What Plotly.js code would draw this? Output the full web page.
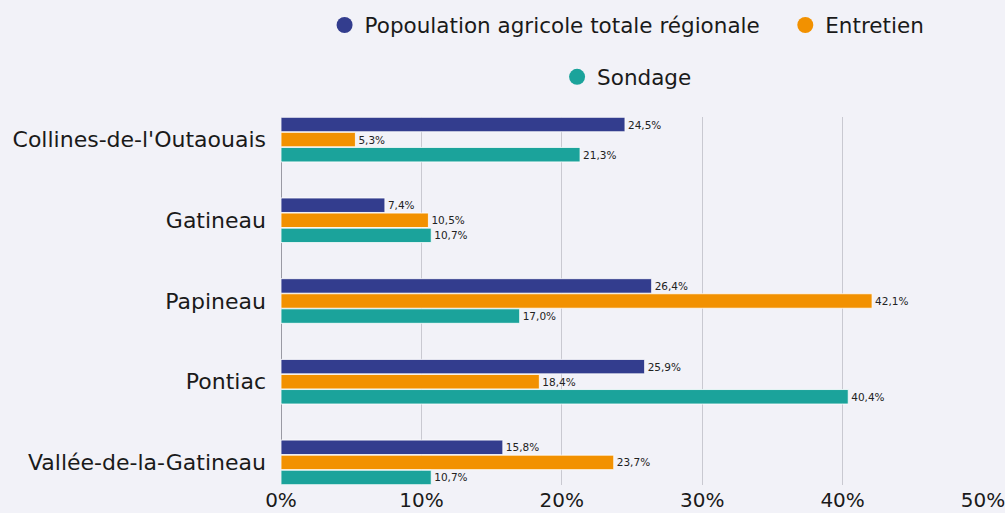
<!DOCTYPE html>
<html>
<head>
<meta charset="utf-8">
<script src="https://cdn.plot.ly/plotly-3.0.1.min.js"></script>
<style>html,body{margin:0;padding:0;background:#f2f2f8;}</style>
</head>
<body>
<div id="chart" style="width:1005px;height:513px;"></div>
<script>
const categories = ["Collines-de-l'Outaouais", "Gatineau", "Papineau", "Pontiac", "Vallée-de-la-Gatineau"];
const seriesNames = ["Popoulation agricole totale régionale", "Entretien", "Sondage"];
const population = [24.5, 7.4, 26.4, 25.9, 15.8];
const entretien = [5.3, 10.5, 42.1, 18.4, 23.7];
const sondage = [21.3, 10.7, 17.0, 40.4, 10.7];
const colors = ["#333d8e", "#f29100", "#1ba39b"];
const xTicks = [0, 10, 20, 30, 40, 50];

const seriesValues = [population, entretien, sondage];
const fontFam = "'DejaVu Sans', 'Open Sans', sans-serif";

const traces = seriesValues.map((vals, i) => ({
  type: 'bar',
  orientation: 'h',
  name: seriesNames[i],
  x: vals,
  y: categories,
  marker: {color: colors[i], line: {color: '#ffffff', width: 0.8}},
  texttemplate: '%{x:.1f}%',
  textposition: 'outside',
  cliponaxis: false,
  textfont: {size: 10.5, color: '#222222', family: fontFam},
  showlegend: false,
  hoverinfo: 'x+y'
}));

const legendTraces = seriesNames.map((n, i) => ({
  type: 'scatter',
  mode: 'markers',
  name: i === 0 ? n + '\u00a0\u00a0\u00a0' : n,
  x: [null],
  y: [null],
  marker: {color: colors[i], size: 16, symbol: 'circle'},
  legend: i < 2 ? 'legend' : 'legend2',
  showlegend: true
}));

const layout = {
  width: 1005,
  height: 513,
  paper_bgcolor: '#f2f2f8',
  plot_bgcolor: '#f2f2f8',
  separators: ', ',
  font: {family: fontFam, color: '#1a1a1a', size: 21},
  margin: {l: 281, r: 22, t: 117, b: 28, autoexpand: false},
  barmode: 'group',
  bargap: 0.44,
  bargroupgap: 0.04,
  xaxis: {
    range: [0, 50],
    tickvals: xTicks,
    ticktext: xTicks.map(v => v + '%'),
    showgrid: true,
    gridcolor: '#c9c9d1',
    gridwidth: 1,
    zeroline: true,
    zerolinecolor: '#9a9aa4',
    zerolinewidth: 1,
    ticklabelstandoff: 1,
    ticklabeloverflow: 'allow',
    tickfont: {size: 20, family: fontFam, color: '#1a1a1a'},
    fixedrange: true
  },
  yaxis: {
    type: 'category',
    range: [4.28, -0.28],
    tickfont: {size: 22, family: fontFam, color: '#1a1a1a'},
    ticks: '',
    ticklabelstandoff: 14,
    showgrid: false,
    zeroline: false,
    fixedrange: true
  },
  legend: {
    orientation: 'h',
    x: 0.493, xanchor: 'center',
    y: 1.25, yanchor: 'middle',
    font: {size: 21.5, family: fontFam, color: '#1a1a1a'},
    bgcolor: 'rgba(0,0,0,0)',
    itemsizing: 'trace',
    itemwidth: 30,
    tracegroupgap: 0
  },
  legend2: {
    orientation: 'h',
    x: 0.493, xanchor: 'center',
    y: 1.109, yanchor: 'middle',
    font: {size: 21.5, family: fontFam, color: '#1a1a1a'},
    bgcolor: 'rgba(0,0,0,0)',
    itemsizing: 'trace',
    itemwidth: 30
  },
  showlegend: true
};

Plotly.newPlot('chart', traces.concat(legendTraces), layout, {displayModeBar: false, staticPlot: true});
</script>
</body>
</html>
